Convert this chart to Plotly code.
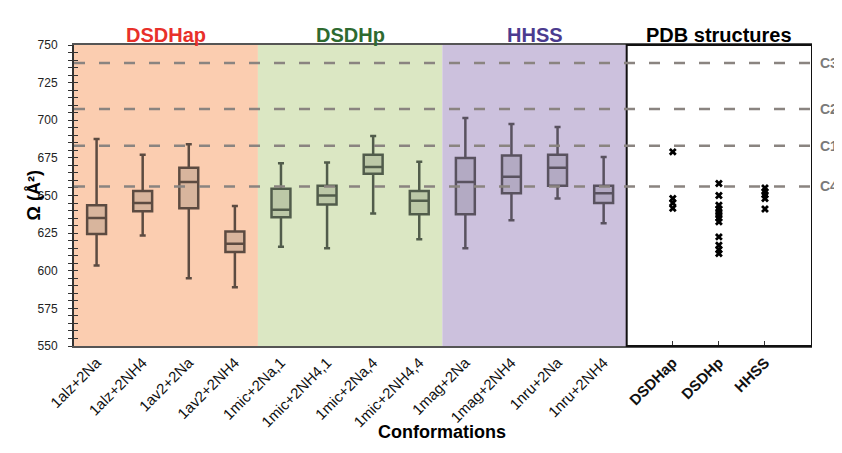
import plotly.graph_objects as go

# ---------------- data ----------------
groups = ["DSDHap", "DSDHp", "HHSS"]
group_conformations = [
    ["1alz+2Na", "1alz+2NH4", "1av2+2Na", "1av2+2NH4"],
    ["1mic+2Na,1", "1mic+2NH4,1", "1mic+2Na,4", "1mic+2NH4,4"],
    ["1mag+2Na", "1mag+2NH4", "1nru+2Na", "1nru+2NH4"],
]
upper_whisker = [
    [687.5, 677, 684, 643],
    [671.5, 672, 689.5, 672.5],
    [701.5, 697.5, 695.5, 675.5],
]
q3_values = [
    [643.5, 653, 668.5, 626],
    [654.5, 656.5, 677, 653],
    [675, 676.5, 677, 656.5],
]
median_values = [
    [635, 645, 659, 618],
    [640.5, 650, 669, 646.5],
    [659, 662.5, 668.5, 651.5],
]
q1_values = [
    [624.5, 639.5, 641.5, 612.5],
    [635.5, 644, 664.5, 637.5],
    [637.5, 651.5, 656.5, 645],
]
lower_whisker = [
    [603.5, 623.5, 595, 589],
    [616, 615, 638, 621],
    [615, 633.5, 648, 631.5],
]

pdb_categories = ["DSDHap", "DSDHp", "HHSS"]
pdb_values = [
    [679, 648, 645, 641.5],
    [658, 650, 643.5, 641, 639, 637, 635, 632.5, 622.5, 617, 614, 611.5],
    [655, 652.5, 650.5, 648, 641],
]

ref_labels = ["C3", "C2", "C1", "C4"]
ref_values = [738, 707.5, 683, 656]

y_range = [550, 750]
y_tick_step = 25

# ---------------- styles ----------------
title_colors = ["#e8302a", "#2e6a30", "#4b3b8f"]
region_colors = ["#fbcdb0", "#dbe7c3", "#ccc1dd"]
box_fill = ["#d8b59d", "#bcc8a7", "#b3aac3"]
box_line = ["#5c4b41", "#515c4b", "#59525f"]
FONT = "Liberation Sans, Arial, Helvetica, sans-serif"

# the page body has an 8px margin, so the figure is 8px smaller than the window
PAGE_PAD = 8
PLOT_L, PLOT_R, PLOT_T, PLOT_B = 74, 812, 45, 346   # plot area in window pixels
WIN_W, WIN_H = 842, 453
PW, PH = PLOT_R - PLOT_L, PLOT_B - PLOT_T

fig = go.Figure()

pos = 0
tickvals, ticktext = [], []
group_bounds = []
for g, confs in enumerate(group_conformations):
    xs = list(range(pos, pos + len(confs)))
    group_bounds.append((pos - 0.5, pos + len(confs) - 0.5))
    fig.add_trace(go.Box(
        x=xs,
        q1=q1_values[g], median=median_values[g], q3=q3_values[g],
        lowerfence=lower_whisker[g], upperfence=upper_whisker[g],
        width=0.41, whiskerwidth=0.32,
        fillcolor=box_fill[g],
        line=dict(color=box_line[g], width=2.5),
        boxpoints=False, showlegend=False, hoverinfo="skip",
    ))
    tickvals += xs
    ticktext += confs
    pos += len(confs)

n_conf = pos
pdb_x = [n_conf + 0.5 + i for i in range(len(pdb_categories))]
for i, vals in enumerate(pdb_values):
    fig.add_trace(go.Scatter(
        x=[pdb_x[i]] * len(vals), y=vals, mode="markers",
        marker=dict(symbol="x", size=7, color="black", line=dict(width=0)),
        showlegend=False, hoverinfo="skip",
    ))
tickvals += pdb_x
ticktext += [f"<b>{c}</b>" for c in pdb_categories]

x_lo = -0.49
x_hi = pdb_x[-1] + 1.02
pdb_lo = n_conf - 0.5

shapes = []
for g, (a, b) in enumerate(group_bounds):
    a = x_lo if g == 0 else a
    shapes.append(dict(type="rect", xref="x", yref="paper", x0=a, x1=b, y0=0, y1=1,
                       fillcolor=region_colors[g], line=dict(width=0), layer="below"))
# PDB frame
shapes.append(dict(type="rect", xref="x", yref="paper", x0=pdb_lo, x1=x_hi, y0=0, y1=1,
                   fillcolor="rgba(0,0,0,0)", line=dict(color="#111", width=2), layer="above"))
for v in ref_values:
    shapes.append(dict(type="line", xref="paper", yref="y", x0=0, x1=1, y0=v, y1=v,
                       line=dict(color="#8a8480", width=2.5, dash="11px,14px"), layer="above"))

annotations = []
title_y = 1 + (PLOT_T - 22) / PH
for g, name in enumerate(groups):
    a, b = group_bounds[g]
    annotations.append(dict(x=(a + b) / 2, y=title_y, xref="x", yref="paper", text=f"<b>{name}</b>",
                            showarrow=False, font=dict(size=20, color=title_colors[g], family=FONT)))
annotations.append(dict(x=(pdb_lo + x_hi) / 2, y=title_y, xref="x", yref="paper",
                        text="<b>PDB structures</b>", showarrow=False,
                        font=dict(size=20, color="black", family=FONT)))
for lab, v in zip(ref_labels, ref_values):
    annotations.append(dict(x=1 + (818 - PLOT_R) / PW, y=v, xref="paper", yref="y", xanchor="left",
                            text=f"<b>{lab}</b>", showarrow=False,
                            font=dict(size=14, color="#7a7a7a", family=FONT)))
annotations.append(dict(x=(442 - PLOT_L) / PW, y=-(444 - PLOT_B) / PH, xref="paper", yref="paper",
                        text="<b>Conformations</b>", showarrow=False,
                        font=dict(size=18, color="black", family=FONT)))
annotations.append(dict(x=(21 - PLOT_L) / PW, y=0.5, xref="paper", yref="paper", textangle=-90,
                        text="<b>Ω (Å²)</b>", showarrow=False,
                        font=dict(size=18, color="black", family=FONT)))

fig.update_layout(
    width=WIN_W - PAGE_PAD, height=WIN_H - PAGE_PAD,
    margin=dict(l=PLOT_L - PAGE_PAD, r=WIN_W - PLOT_R, t=PLOT_T - PAGE_PAD, b=WIN_H - PLOT_B),
    paper_bgcolor="white", plot_bgcolor="white",
    font=dict(family=FONT, color="#222"),
    shapes=shapes, annotations=annotations,
    xaxis=dict(range=[x_lo, x_hi], tickvals=tickvals, ticktext=ticktext, tickangle=-45,
               tickfont=dict(size=15, color="#111"), ticks="", showgrid=False,
               zeroline=False,
               showline=True, linecolor="#555", linewidth=2, mirror=True, automargin=False),
    xaxis2=dict(range=[x_lo, x_hi], overlaying="x", tickvals=pdb_x, ticktext=["", "", ""],
                ticks="inside", ticklen=5, tickcolor="#333", showgrid=False, zeroline=False,
                showline=False, side="bottom", automargin=False),
    yaxis=dict(range=y_range, dtick=y_tick_step, tick0=y_range[0], ticks="outside", ticklen=4,
               tickcolor="#333", tickwidth=1.2, tickfont=dict(size=12, color="#222"),
               ticklabelstandoff=8,
               showgrid=False, zeroline=False, showline=True, linecolor="#333", linewidth=2,
               automargin=False,
               minor=dict(dtick=5, ticks="outside", ticklen=4, tickcolor="#333", tickwidth=1.2)),
    yaxis2=dict(range=y_range, overlaying="y", dtick=y_tick_step, tick0=y_range[0], ticks="inside",
                ticklen=4, tickcolor="#333", tickwidth=1.2, showticklabels=False,
                showgrid=False, zeroline=False, showline=False, automargin=False,
                minor=dict(dtick=5, ticks="inside", ticklen=4, tickcolor="#333", tickwidth=1.2)),
)
# invisible traces to activate the overlay axes
fig.add_trace(go.Scatter(x=[pdb_x[0]], y=[y_range[0] - 10], xaxis="x2", mode="markers",
                         marker=dict(opacity=0), showlegend=False, hoverinfo="skip"))
fig.add_trace(go.Scatter(x=[pdb_x[0]], y=[y_range[0] - 10], yaxis="y2", mode="markers",
                         marker=dict(opacity=0), showlegend=False, hoverinfo="skip"))

fig.write_html("out.html")
